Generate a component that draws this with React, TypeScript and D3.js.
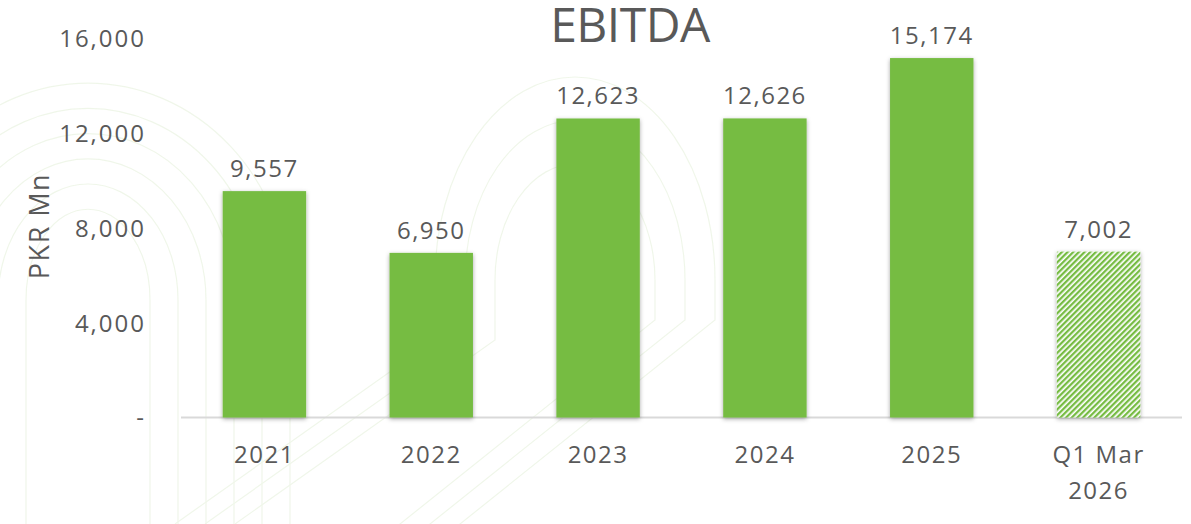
import * as d3 from "d3";
import { useRef, useEffect } from "react";

const categories = ["2021", "2022", "2023", "2024", "2025", "Q1 Mar 2026"];
const ebitda = [9557, 6950, 12623, 12626, 15174, 7002];
const isPartial = [false, false, false, false, false, true];
const yTicks = [0, 4000, 8000, 12000, 16000];

const GREEN = "#76bc43";
const TEXT = "#595959";
const FONT = "'Open Sans', 'DejaVu Sans', sans-serif";

// faint decorative arches in the background
const leftArches = [62, 90, 118, 146, 174, 202];
const midArches = [80, 110, 140];

export default function App({
  width = 1191,
  height = 524,
  marginTop = 38.5,
  marginRight = 9,
  marginBottom = 106.5,
  marginLeft = 181
}) {
  const gy = useRef(null);
  const x = d3.scaleBand(categories, [marginLeft, width - marginRight]).paddingInner(0.5).paddingOuter(0.25);
  const y = d3.scaleLinear([0, 16000], [height - marginBottom, marginTop]);
  const fmt = d3.format(",");

  useEffect(() => {
    const g = d3.select(gy.current);
    g.call(d3.axisLeft(y).tickValues(yTicks).tickSize(0).tickPadding(0).tickFormat((d) => (d === 0 ? "-" : fmt(d))));
    g.select(".domain").remove();
    g.selectAll("text")
      .attr("dy", "0.35em")
      .style("font-size", "24px")
      .style("font-family", FONT)
      .style("letter-spacing", "2px")
      .style("fill", TEXT);
  }, [gy, y]);

  const arch = (cx, cy, rx, ry, bottom) =>
    `M${cx - rx},${bottom} L${cx - rx},${cy} A${rx},${ry} 0 0 1 ${cx + rx},${cy} L${cx + rx},${bottom}`;

  const midArch = (cx, cy, rx, ry) =>
    `M${cx - rx - 260},${height} L${cx - rx},${cy + 60} L${cx - rx},${cy} A${rx},${ry} 0 0 1 ${cx + rx},${cy} L${cx + rx},${cy + 40} L${cx + rx - 330},${height + 60}`;

  const base = y(0);

  return (
    <svg width={width} height={height} style={{ position: "absolute", left: 0, top: 0, background: "#fff" }}>
      <defs>
        <pattern id="hatch" width="4" height="4" patternUnits="userSpaceOnUse" patternTransform="rotate(45)">
          <rect width="4" height="4" fill="#fff" />
          <rect width="2.3" height="4" fill={GREEN} />
        </pattern>
        <filter id="shadow" x="-20%" y="-5%" width="140%" height="115%">
          <feDropShadow dx="0" dy="1.5" stdDeviation="2" floodColor="#000" floodOpacity="0.35" />
        </filter>
      </defs>

      <g fill="none" stroke="#e6f1dc" strokeWidth="1.2" opacity="0.6">
        {leftArches.map((r, i) => (
          <path key={"l" + i} d={arch(88, 300, r, r * 0.9 + 35, height)} />
        ))}
        {midArches.map((r, i) => (
          <path key={"m" + i} d={midArch(575, 280, r, r * 1.45)} />
        ))}
      </g>

      <text x={630} y={42} textAnchor="middle" fontFamily={FONT} fontSize="48" fontWeight="500" letterSpacing="-0.5" fill={TEXT}>
        EBITDA
      </text>

      <g ref={gy} transform={`translate(146,0)`} />

      <text
        transform={`translate(49,226) rotate(-90)`}
        textAnchor="middle"
        fontFamily={FONT}
        fontSize="27"
        letterSpacing="1.5"
        fill={TEXT}
      >
        PKR Mn
      </text>

      <line x1={marginLeft} x2={width - marginRight} y1={base} y2={base} stroke="#d9d9d9" strokeWidth="2" />

      <g filter="url(#shadow)">
        {categories.map((c, i) => (
          <rect
            key={c}
            x={x(c)}
            y={y(ebitda[i])}
            width={x.bandwidth()}
            height={base - y(ebitda[i])}
            fill={isPartial[i] ? "url(#hatch)" : GREEN}
          />
        ))}
      </g>

      <g fontFamily={FONT} fontSize="24" letterSpacing="1.5" fill={TEXT} textAnchor="middle">
        {categories.map((c, i) => (
          <text key={c} x={x(c) + x.bandwidth() / 2} y={y(ebitda[i]) - 14}>
            {fmt(ebitda[i])}
          </text>
        ))}
        {categories.map((c, i) => {
          const words = c.length > 4 ? [c.slice(0, 6), c.slice(7)] : [c];
          return (
            <text key={"x" + c} x={x(c) + x.bandwidth() / 2} y={463}>
              {words.map((w, j) => (
                <tspan key={j} x={x(c) + x.bandwidth() / 2} dy={j === 0 ? 0 : 36}>
                  {w}
                </tspan>
              ))}
            </text>
          );
        })}
      </g>
    </svg>
  );
}
